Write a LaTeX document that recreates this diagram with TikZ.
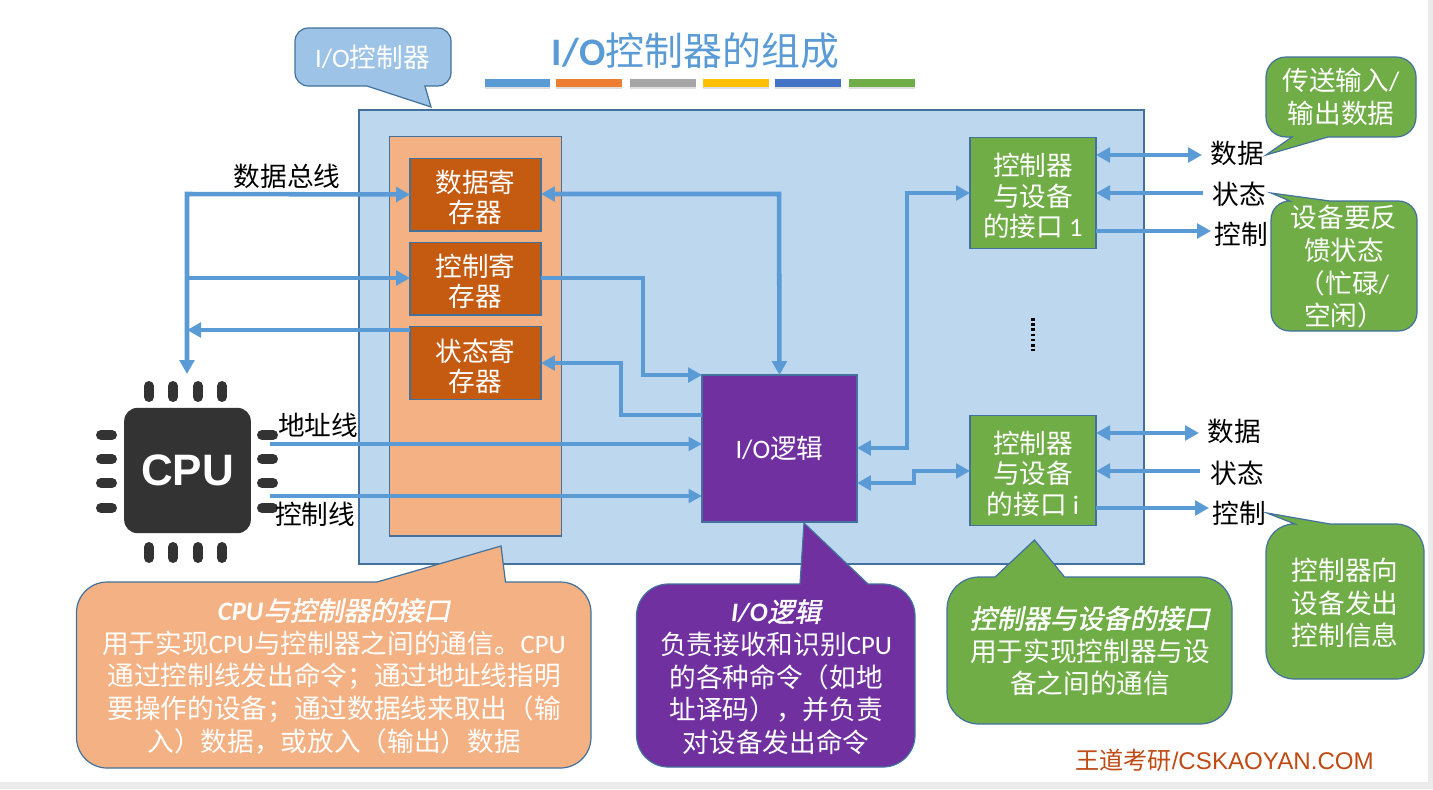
\documentclass[tikz,border=0pt]{standalone}
\usepackage{fontspec}
\usetikzlibrary{arrows.meta,shadows}
\setmainfont{Noto Sans CJK SC}
\newfontfamily\latinfont{Carlito}
\newfontfamily\footfont{Liberation Sans}
\newfontfamily\cpufont{Liberation Sans}
\newfontfamily\slantfont[FakeSlant=0.2,FakeBold=1.5]{Noto Sans CJK SC}
\definecolor{linkblue}{HTML}{5B9BD5}
\definecolor{edgeblue}{HTML}{41719C}
\definecolor{paleblue}{HTML}{BDD7EE}
\definecolor{midblue}{HTML}{9DC3E6}
\definecolor{paleorange}{HTML}{F4B183}
\definecolor{darkorange}{HTML}{C55A11}
\definecolor{logicpurple}{HTML}{7030A0}
\definecolor{portgreen}{HTML}{70AD47}
\definecolor{chipgrey}{HTML}{333333}
\definecolor{barorange}{HTML}{ED7D31}
\definecolor{bargrey}{HTML}{A5A5A5}
\definecolor{baryellow}{HTML}{FFC000}
\definecolor{barblue}{HTML}{4472C4}
\definecolor{footred}{HTML}{BF4A14}
\begin{document}
\begin{tikzpicture}[
    % One unit is one pixel of the slide, y runs downwards
    x=0.75pt, y=-0.75pt,
    % Boxes of the controller
    block/.style={draw=edgeblue, line width=0.9pt, inner sep=0pt, outer sep=0pt, align=center,
        text=white, font=\fontsize{20}{22.8}\selectfont},
    regbox/.style={block, fill=darkorange, minimum width=98.2pt, minimum height=54.6pt},
    portbox/.style={block, fill=portgreen, minimum width=94.5pt, minimum height=83pt},
    % Connectors
    bus/.style={draw=linkblue, line width=3.4pt, -{Triangle[width=11pt,length=10.5pt]}},
    twoway/.style={draw=linkblue, line width=3.4pt, {Triangle[width=11pt,length=10.5pt]}-{Triangle[width=11pt,length=10.5pt]}},
    wire/.style={draw=linkblue, line width=3pt, -{Triangle[width=10pt,length=10pt]}},
    % Speech bubbles and plain labels
    bubble/.style={draw=edgeblue, line width=0.9pt},
    note/.style={inner sep=0pt, outer sep=0pt, align=center, text=white,
        font=\fontsize{20}{24.5}\selectfont},
    tag/.style={inner sep=0pt, outer sep=0pt, text=black, font=\fontsize{20}{23}\selectfont},
    pin/.style={draw=chipgrey, line width=7.5pt, line cap=round},
    bar/.style={drop shadow={shadow xshift=0pt, shadow yshift=-1.5pt, opacity=0.25}}
]
    \useasboundingbox (0,0) rectangle (1433,789);

    % --- Slide edge ---
    \fill[black!8] (1428,0) rectangle (1433,789);
    \fill[black!8] (0,782) rectangle (1433,789);

    % --- Title ---
    \node[inner sep=0pt, text=linkblue, font=\fontsize{29.2}{32}\selectfont] (heading) at (695.5,51)
        {{\latinfont\bfseries I/O}控制器的组成};
    \fill[linkblue, bar] (485,79) rectangle (550,87);
    \fill[barorange, bar] (556,79) rectangle (622,87);
    \fill[bargrey, bar] (630,79) rectangle (696,87);
    \fill[baryellow, bar] (703,79) rectangle (769,87);
    \fill[barblue, bar] (775,79) rectangle (841,87);
    \fill[portgreen, bar] (849,79) rectangle (915,87);

    % --- Controller frame ---
    \draw[bubble, fill=paleblue] (359,110) rectangle (1144,564);
    \draw[bubble, fill=paleorange] (389.5,136.5) rectangle (561.5,536);

    % --- Registers and logic ---
    % The tall rule in the first line pushes the text down a little
    \node[regbox] (dataReg) at (475.5,194.5) {\rule{0pt}{21.5pt}数据寄\\存器};
    \node[regbox] (ctrlReg) at (475.5,278.5) {\rule{0pt}{21.5pt}控制寄\\存器};
    \node[regbox] (statReg) at (475.5,363) {\rule{0pt}{21.5pt}状态寄\\存器};
    \node[block, fill=logicpurple, minimum width=116.2pt, minimum height=110.2pt] (logic) at (779.5,448.5)
        {{\latinfont I/O}逻辑};
    \node[portbox] (portOne) at (1033,193) {\rule{0pt}{21.5pt}控制器\\与设备\\的接口 {\latinfont 1}};
    \node[portbox] (portTwo) at (1033,470.5) {\rule{0pt}{21.5pt}控制器\\与设备\\的接口 {\latinfont i}};

    % --- CPU chip ---
    \draw[pin] (149,386) -- (149,397) (173,386) -- (173,397) (198,386) -- (198,397) (222,386) -- (222,397);
    \draw[pin] (149,547) -- (149,558) (173,547) -- (173,558) (198,547) -- (198,558) (222,547) -- (222,558);
    \draw[pin] (101,435) -- (112,435) (101,459) -- (112,459) (101,483) -- (112,483) (101,508) -- (112,508);
    \draw[pin] (262,435) -- (273,435) (262,459) -- (273,459) (262,483) -- (273,483) (262,508) -- (273,508);
    \node[fill=chipgrey, rounded corners=10pt, minimum width=95pt, minimum height=94pt, inner sep=0pt,
        text=white, font=\cpufont\fontsize{33}{33}\selectfont\bfseries] (cpu) at (187.5,470.5) {\raisebox{-1.5pt}{CPU}};

    % --- Left side connectors ---
    \coordinate (busTip) at (187,374);
    \coordinate (busCorner) at (187,194);
    \coordinate (busTap) at (187,278);
    \coordinate (busReturn) at (187,330);
    \coordinate (addrStart) at (270,444);
    \coordinate (ctrlStart) at (270,496);
    \draw[twoway] (busTip) -- (busCorner) -- (dataReg.west);
    \draw[bus] (busTap) -- (ctrlReg.west |- busTap);
    \draw[bus] (statReg.west |- busReturn) -- (busReturn);
    \draw[wire] (addrStart) -- (logic.west |- addrStart);
    \draw[wire] (ctrlStart) -- (logic.west |- ctrlStart);

    % --- Inner connectors ---
    \coordinate (dataTurn) at (779,194);
    \coordinate (ctrlTurn) at (643,278);
    \coordinate (ctrlDown) at (643,375);
    \coordinate (statTurn) at (621,363);
    \coordinate (statDown) at (621,415);
    \draw[twoway] (dataReg.east |- dataTurn) -- (dataTurn) -- (logic.north);
    \draw[bus] (ctrlReg.east |- ctrlTurn) -- (ctrlTurn) -- (ctrlDown) -- (logic.west |- ctrlDown);
    \draw[bus] (logic.west |- statDown) -- (statDown) -- (statTurn) -- (statReg.east |- statTurn);

    % --- Logic to device ports ---
    \coordinate (upTurn) at (907,448);
    \coordinate (upTop) at (907,193);
    \coordinate (lowTurn) at (914,483);
    \coordinate (lowTop) at (914,471);
    \draw[twoway] (logic.east |- upTurn) -- (upTurn) -- (upTop) -- (portOne.west |- upTop);
    \draw[twoway] (logic.east |- lowTurn) -- (lowTurn) -- (lowTop) -- (portTwo.west |- lowTop);
    \draw[black, line width=2.6pt, dash pattern=on 2pt off 1.9pt] (1033,318) -- (1033,351);

    % --- Device side of port 1 ---
    \coordinate (dataEnd) at (1202,155);
    \coordinate (statEnd) at (1203,193);
    \coordinate (ctrlEnd) at (1211,231);
    \draw[twoway] (portOne.east |- dataEnd) -- (dataEnd);
    \draw[bus] (statEnd) -- (portOne.east |- statEnd);
    \draw[bus] (portOne.east |- ctrlEnd) -- (ctrlEnd);
    \node[tag] (dataTag) at (1237,153) {数据};
    \node[tag] (statTag) at (1239,194) {状态};
    \node[tag] (ctrlTag) at (1241,234) {控制};

    % --- Device side of port i ---
    \coordinate (dataEndTwo) at (1199,433);
    \coordinate (statEndTwo) at (1200,471);
    \coordinate (ctrlEndTwo) at (1209,508);
    \draw[twoway] (portTwo.east |- dataEndTwo) -- (dataEndTwo);
    \draw[bus] (statEndTwo) -- (portTwo.east |- statEndTwo);
    \draw[bus] (portTwo.east |- ctrlEndTwo) -- (ctrlEndTwo);
    \node[tag] (dataTagTwo) at (1234,431) {数据};
    \node[tag] (statTagTwo) at (1237,473) {状态};
    \node[tag] (ctrlTagTwo) at (1239,513) {控制};

    % --- Bus labels ---
    \node[tag] (busTag) at (287,176) {数据总线};
    \node[tag] (addrTag) at (318,425) {地址线};
    \node[tag] (ctrlLineTag) at (315,514) {控制线};

    % --- Bubbles ---
    \draw[bubble, fill=midblue] (295,57) [rounded corners=10pt] -- (295,28) -- (451,28) -- (451,86) [sharp corners] -- (425,86) -- (431,107) -- (367,86) [rounded corners=10pt] -- (295,86) -- cycle;
    \node[note] (frameNote) at (372.5,57) {{\latinfont I/O}控制器};

    \draw[bubble, fill=paleorange] (76.5,675) [rounded corners=23pt] -- (76.5,582) [sharp corners] -- (377,582) -- (501,546) -- (505.5,582) [rounded corners=23pt] -- (591,582) -- (591,768) -- (76.5,768) -- cycle;
    \node[note] (cpuNote) at (334,676)
        {{\slantfont {\latinfont\bfseries\itshape CPU}与控制器的接口}\\
         用于实现{\latinfont CPU}与控制器之间的通信。{\latinfont CPU}\\
         通过控制线发出命令；通过地址线指明\\
         要操作的设备；通过数据线来取出（输\\
         入）数据，或放入（输出）数据};

    \draw[bubble, fill=logicpurple] (636.5,675) [rounded corners=24pt] -- (636.5,584) [sharp corners] -- (800,584) -- (804,523) -- (868,584) [rounded corners=24pt] -- (915,584) -- (915,767) -- (636.5,767) -- cycle;
    \node[note] (logicNote) at (776,677)
        {{\slantfont{\latinfont\bfseries\itshape I/O}逻辑}\\
         负责接收和识别{\latinfont CPU}\\
         的各种命令（如地\\
         址译码），并负责\\
         对设备发出命令};

    \draw[bubble, fill=portgreen] (947,650) [rounded corners=24pt] -- (947,577) [sharp corners] -- (995,577) -- (1034.5,540) -- (1064.5,577) [rounded corners=24pt] -- (1232,577) -- (1232,724) -- (947,724) -- cycle;
    \node[note] (portNote) at (1090,651)
        {{\slantfont 控制器与设备的接口}\\
         用于实现控制器与设\\
         备之间的通信};

    \draw[bubble, fill=portgreen] (1266,97) [rounded corners=15pt] -- (1266,57) -- (1416,57) -- (1416,137) [sharp corners] -- (1328,137) -- (1266,155) -- (1292,137) [rounded corners=15pt] -- (1266,137) -- cycle;
    \node[note] (dataNote) at (1341,97) {传送输入{\latinfont /}\\输出数据};

    \draw[bubble, fill=portgreen] (1271,266) [rounded corners=14pt] -- (1271,201) [sharp corners] -- (1290,201) -- (1271,193) -- (1330,201) [rounded corners=14pt] -- (1417,201) -- (1417,331) -- (1271,331) -- cycle;
    \node[note] (statNote) at (1344,267) {设备要反\\馈状态\\（忙碌{\latinfont /}\\空闲）};

    \draw[bubble, fill=portgreen] (1266,600) [rounded corners=21pt] -- (1266,524) [sharp corners] -- (1295,524) -- (1267,513) -- (1330,524) [rounded corners=21pt] -- (1424,524) -- (1424,679) -- (1266,679) -- cycle;
    \node[note] (ctrlNote) at (1345,603) {控制器向\\设备发出\\控制信息};

    % --- Footer ---
    \node[inner sep=0pt, text=footred, font=\fontsize{18.1}{20}\selectfont] (footer) at (1224.5,760)
        {王道考研{\footfont /CSKAOYAN.COM}};
\end{tikzpicture}
\end{document}
